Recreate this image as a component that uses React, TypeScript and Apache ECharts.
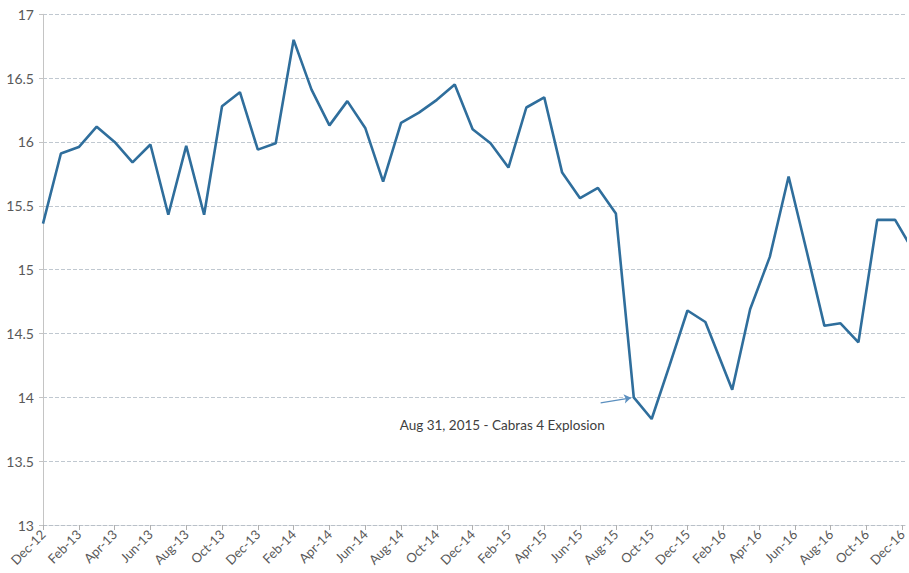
import React, { useEffect, useRef } from "react";
import * as echarts from "echarts";

// Tick labels shown every other month (month index 0 = Dec-12)
const tickLabels = [
  "Dec-12", "Feb-13", "Apr-13", "Jun-13", "Aug-13", "Oct-13", "Dec-13",
  "Feb-14", "Apr-14", "Jun-14", "Aug-14", "Oct-14", "Dec-14",
  "Feb-15", "Apr-15", "Jun-15", "Aug-15", "Oct-15", "Dec-15",
  "Feb-16", "Apr-16", "Jun-16", "Aug-16", "Oct-16", "Dec-16",
];

const monthPositions = [
  0, 1, 2, 3, 4, 5, 6, 7, 8, 9, 10, 11, 12, 13, 14, 15, 16, 17, 18, 19,
  20, 21, 22, 23, 24, 25, 26, 27, 28, 29, 30, 31, 32, 33, 34, 35, 36, 37,
  38.5, 39.5, 40.6, 41.65, 42.65, 43.65, 44.55, 45.55, 46.6, 47.6, 48.6,
];

const values = [
  15.36, 15.91, 15.96, 16.12, 16.0, 15.84, 15.98, 15.43, 15.97, 15.43,
  16.28, 16.39, 15.94, 15.99, 16.8, 16.41, 16.13, 16.32, 16.11, 15.69,
  16.15, 16.23, 16.33, 16.45, 16.1, 15.99, 15.8, 16.27, 16.35, 15.76,
  15.56, 15.64, 15.44, 14.0, 13.83, 14.25, 14.68, 14.59,
  14.06, 14.69, 15.1, 15.73, 15.15, 14.56, 14.58, 14.43, 15.39, 15.39, 15.15,
];

const annotationText = "Aug 31, 2015 - Cabras 4 Explosion";
const annotationTextAt = [25.65, 13.784];
const arrowFrom = [31.15, 13.957];
const arrowTo = [32.85, 13.996];

export default function App() {
  const ref = useRef<HTMLDivElement>(null);

  useEffect(() => {
    if (!ref.current) return;
    const chart = echarts.init(ref.current, undefined, { renderer: "svg" });
    const font = "Lato, 'Open Sans', sans-serif";
    chart.setOption({
      animation: false,
      backgroundColor: "#ffffff",
      grid: { left: 43, right: 0, top: 14.3, bottom: 48, containLabel: false },
      xAxis: {
        type: "value",
        min: 0,
        max: 48.17,
        interval: 2,
        axisLine: {
          show: true,
          lineStyle: { color: "#b9c0c8", width: 1, type: [4, 2] },
        },
        axisTick: {
          show: true,
          length: 5,
          lineStyle: { color: "#b0b0b0" },
        },
        splitLine: { show: false },
        axisLabel: {
          rotate: 45,
          margin: 7,
          fontSize: 13,
          fontFamily: font,
          color: "#595959",
          showMaxLabel: false,
          formatter: (v: number) => {
            const r = Math.round(v);
            if (Math.abs(v - r) > 1e-6 || r % 2 !== 0) return "";
            return tickLabels[r / 2] ?? "";
          },
        },
      },
      yAxis: {
        type: "value",
        min: 13,
        max: 17,
        interval: 0.5,
        axisLine: { show: true, lineStyle: { color: "#c4c4c4", width: 1 } },
        axisTick: { show: true, length: 4, lineStyle: { color: "#c4c4c4" } },
        axisLabel: {
          margin: 9,
          fontSize: 14,
          fontFamily: font,
          color: "#595959",
        },
        splitLine: {
          show: true,
          lineStyle: { color: "#c0c8d0", width: 1, type: [4, 2] },
        },
      },
      series: [
        {
          type: "line",
          data: monthPositions.map((m, i) => [m, values[i]]),
          showSymbol: false,
          symbol: "none",
          clip: true,
          lineStyle: { color: "#2f6e9c", width: 2.6 },
          markLine: {
            silent: true,
            symbol: ["none", "arrow"],
            symbolSize: 7,
            label: { show: false },
            lineStyle: { color: "#5b8fbf", width: 1.2, type: "solid" },
            data: [[{ coord: arrowFrom }, { coord: arrowTo }]],
          },
          markPoint: {
            silent: true,
            symbol: "rect",
            symbolSize: [1, 1],
            itemStyle: { color: "rgba(0,0,0,0)" },
            label: {
              show: true,
              position: "inside",
              formatter: annotationText,
              color: "#404040",
              fontSize: 13.5,
              fontFamily: font,
            },
            data: [{ coord: annotationTextAt }],
          },
        },
      ],
    });
    return () => chart.dispose();
  }, []);

  return (
    <div
      ref={ref}
      style={{ position: "fixed", left: 0, top: 0, width: 909, height: 573, background: "#fff" }}
    />
  );
}
